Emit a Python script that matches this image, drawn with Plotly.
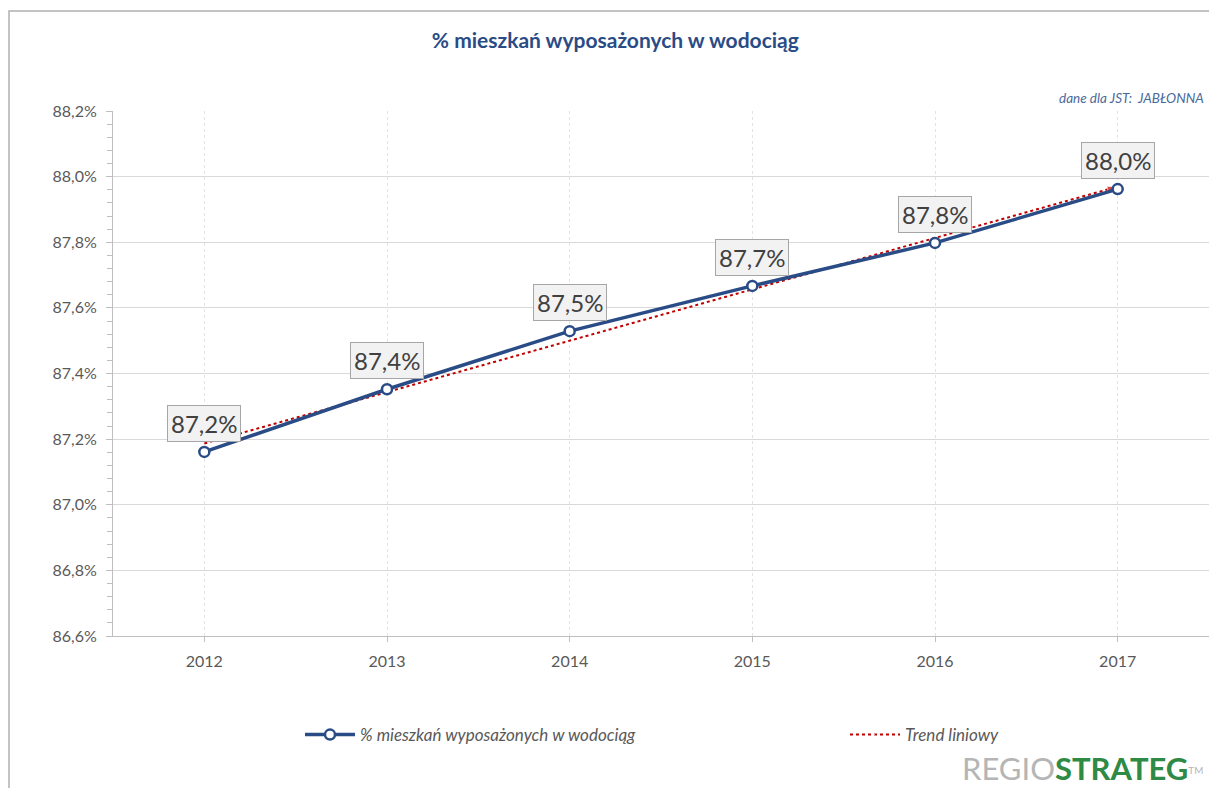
import numpy as np
import plotly.graph_objects as go

years = ['2012', '2013', '2014', '2015', '2016', '2017']
share = [87.161, 87.352, 87.529, 87.667, 87.798, 87.962]
y_ticks = [86.6, 86.8, 87.0, 87.2, 87.4, 87.6, 87.8, 88.0, 88.2]

series_name = '% mieszkań wyposażonych w wodociąg'
trend_name = 'Trend liniowy'

BLUE = '#2a4c86'
RED = '#c00000'
GRAY_TXT = '#595959'
FONT = 'Lato, Liberation Sans, sans-serif'


def pl(v):
    # polish number format: 87,2%
    return f"{v:.1f}".replace('.', ',') + '%'


# linear trend (least squares) like Excel's "Trend liniowy"
idx = np.arange(len(years))
a, b = np.polyfit(idx, share, 1)
trend = a * idx + b

fig = go.Figure()

fig.add_trace(go.Scatter(
    x=years, y=trend,
    name=trend_name,
    mode='lines+markers',
    line=dict(color=RED, width=2, dash='dot'),
    marker=dict(symbol='arrow', angleref='previous', color=RED,
                size=[0] * (len(years) - 1) + [11]),
    hoverinfo='skip',
    legend='legend2',
))

fig.add_trace(go.Scatter(
    x=years, y=share,
    name=series_name,
    mode='lines+markers',
    line=dict(color=BLUE, width=3.5),
    marker=dict(symbol='circle', size=10, color='white',
                line=dict(color=BLUE, width=2.5)),
    legend='legend',
))

# data labels
for i, v in enumerate(share):
    fig.add_annotation(
        x=i, y=v,
        text=pl(v),
        showarrow=False,
        yanchor='bottom',
        yshift=10,
        font=dict(family=FONT, size=24, color='#404040'),
        bgcolor='#f2f2f2',
        bordercolor='#a6a6a6',
        borderwidth=1,
        borderpad=3,
    )

fig.add_annotation(
    text='<i>dane dla JST:  JABŁONNA</i>',
    xref='paper', yref='paper',
    x=0.9975, y=(636 - 98) / 525,
    xanchor='right', yanchor='middle',
    showarrow=False,
    font=dict(family=FONT, size=13.5, color='#4a6a9a'),
)

fig.add_annotation(
    text="<span style='color:#b5b5b5'>REGIO</span><b style='color:#2f8a45'>STRATEG</b>"
         "<span style='color:#b5b5b5;font-size:14px'><sup>TM</sup></span>",
    xref='paper', yref='paper',
    x=0.9965, y=-0.252,
    xanchor='right', yanchor='middle',
    showarrow=False,
    font=dict(family=FONT, size=31),
)

# outer frame
fig.add_shape(type='rect', xref='paper', yref='paper',
              x0=(9 - 113) / 1096, x1=1.2, y0=-0.5, y1=(636 - 11) / 525,
              line=dict(color='#b0b0b0', width=1.5), fillcolor='rgba(0,0,0,0)',
              layer='below')

fig.update_layout(
    width=1209, height=788,
    showlegend=True,
    plot_bgcolor='white',
    paper_bgcolor='white',
    font=dict(family=FONT, color=GRAY_TXT),
    title=dict(
        text='<b>% mieszkań wyposażonych w wodociąg</b>',
        x=0.509, xref='container', xanchor='center',
        y=0.949, yref='container', yanchor='middle',
        font=dict(size=21, color=BLUE),
    ),
    margin=dict(l=113, r=0, t=111, b=152),
    xaxis=dict(
        type='category',
        range=[-0.5, len(years) - 0.5],
        showline=True, linecolor='#bfbfbf', linewidth=1,
        ticks='outside', ticklen=5, tickcolor='#bfbfbf',
        showgrid=True, gridcolor='#e3e3e3', griddash='dot',
        tickfont=dict(size=16, color=GRAY_TXT),
        ticklabelstandoff=6,
        zeroline=False,
    ),
    yaxis=dict(
        range=[y_ticks[0], y_ticks[-1]],
        tickvals=y_ticks,
        ticktext=[pl(t) for t in y_ticks],
        showline=True, linecolor='#bfbfbf', linewidth=1,
        ticks='outside', ticklen=6, tickcolor='#bfbfbf',
        minor=dict(dtick=0.04, ticks='outside', ticklen=5, tickcolor='#bfbfbf', showgrid=False),
        showgrid=True, gridcolor='#d9d9d9', gridwidth=1,
        tickfont=dict(size=16, color=GRAY_TXT),
        ticklabelstandoff=6,
        zeroline=False,
    ),
    legend=dict(
        orientation='h',
        x=(300 - 113) / 1096, xanchor='left',
        y=(636 - 735) / 525, yanchor='middle',
        itemwidth=50,
        font=dict(size=17, color=GRAY_TXT, style='italic'),
        bgcolor='rgba(0,0,0,0)',
    ),
    legend2=dict(
        orientation='h',
        x=(845 - 113) / 1096, xanchor='left',
        y=(636 - 735) / 525, yanchor='middle',
        itemwidth=50,
        font=dict(size=17, color=GRAY_TXT, style='italic'),
        bgcolor='rgba(0,0,0,0)',
    ),
)

fig.write_html('out.html', config={'displayModeBar': False},
               post_script="document.body.style.margin='0';document.body.style.overflow='hidden';")
